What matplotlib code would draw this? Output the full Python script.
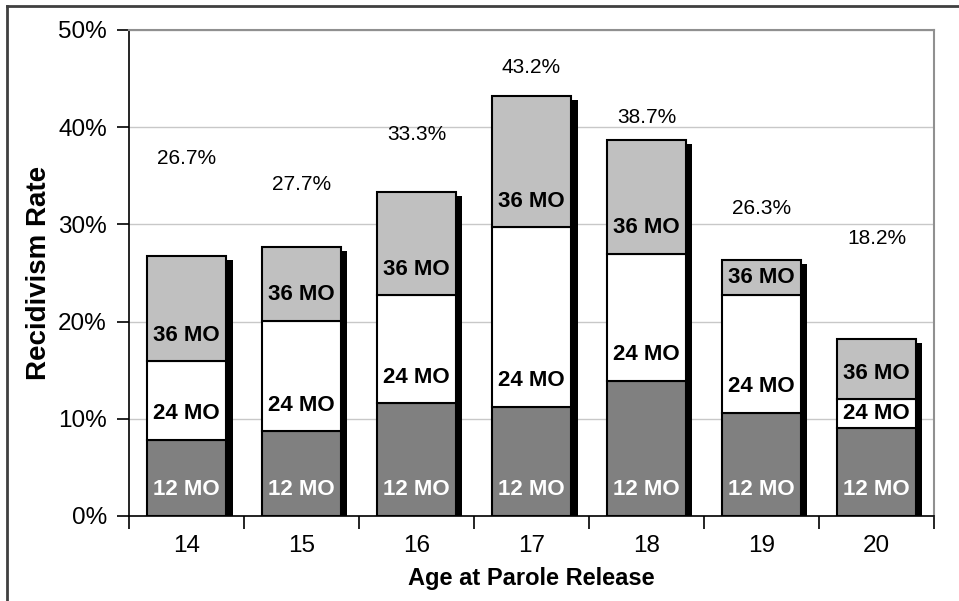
import matplotlib
matplotlib.use("Agg")
import matplotlib.pyplot as plt
from matplotlib.lines import Line2D
from matplotlib.ticker import PercentFormatter

plt.rcParams["font.family"] = ["Liberation Sans", "DejaVu Sans"]

# datos (porcentajes)
edades = ["14", "15", "16", "17", "18", "19", "20"]
mo12 = [7.8, 8.7, 11.6, 11.2, 13.9, 10.6, 9.1]
mo24 = [15.9, 20.1, 22.7, 29.7, 27.0, 22.7, 12.0]   # acumulado hasta 24 meses
mo36 = [26.7, 27.7, 33.3, 43.2, 38.7, 26.3, 18.2]   # total a 36 meses

# altura donde va la etiqueta del total (posicion, no dato)
y_total = [36.8, 34.1, 39.3, 46.1, 41.0, 31.6, 28.5]

fig = plt.figure(figsize=(9.59, 6.01), dpi=100)
ax = fig.add_axes([129 / 959, 1 - 516 / 601, 805 / 959, 486 / 601])

x = list(range(len(edades)))
w = 0.68
sombra = 0.06

# sombra negra detras de cada barra
ax.bar([i + sombra for i in x], [t - 0.4 for t in mo36], w, color="black", zorder=2)

segs = [
    ([0] * len(x), mo12, "#808080", "12 MO", "white"),
    (mo12, mo24, "white", "24 MO", "black"),
    (mo24, mo36, "#c0c0c0", "36 MO", "black"),
]
for bases, tops, color, txt, tcol in segs:
    alturas = [t - b for b, t in zip(bases, tops)]
    ax.bar(x, alturas, w, bottom=bases, color=color, edgecolor="black", linewidth=1.5, zorder=3)
    for i, b, t in zip(x, bases, tops):
        yl = min(b + 2.7, (b + t) / 2)
        ax.text(i, yl, txt, ha="center", va="center", fontsize=16, fontweight="bold", color=tcol, zorder=4)

for i, tot, yl in zip(x, mo36, y_total):
    ax.text(i, yl, "{:.1f}%".format(tot), ha="center", va="center", fontsize=15, zorder=4)

ax.set_xlim(-0.5, len(x) - 0.5)
ax.set_ylim(0, 50)
ax.set_yticks([0, 10, 20, 30, 40, 50])
ax.yaxis.set_major_formatter(PercentFormatter(decimals=0))
ax.set_xticks(x)
ax.set_xticklabels(edades)
ax.set_xticks([i - 0.5 for i in range(len(x) + 1)], minor=True)
ax.tick_params(axis="x", which="major", length=0, labelsize=17.5, pad=14)
ax.tick_params(axis="x", which="minor", length=9, width=1.2, direction="out")
ax.tick_params(axis="y", length=9, width=1.2, direction="out", labelsize=17.5, pad=7)
ax.grid(axis="y", color="#c8c8c8", linewidth=1, zorder=0)
ax.set_axisbelow(True)

for s in ["top", "right"]:
    ax.spines[s].set_color("#909090")
    ax.spines[s].set_linewidth(1.5)
for s in ["left", "bottom"]:
    ax.spines[s].set_color("black")
    ax.spines[s].set_linewidth(1.2)

ax.set_ylabel("Recidivism Rate", fontsize=20, fontweight="bold", labelpad=4)
ax.set_xlabel("Age at Parole Release", fontsize=17, fontweight="bold", labelpad=7)

# marco exterior (solo izquierda y arriba visibles)
fig.add_artist(Line2D([7 / 959, 7 / 959], [0, 1 - 6 / 601], transform=fig.transFigure, color="#404040", linewidth=2))
fig.add_artist(Line2D([7 / 959, 1], [1 - 6 / 601, 1 - 6 / 601], transform=fig.transFigure, color="#404040", linewidth=2))

fig.savefig("out.png", dpi=100)
